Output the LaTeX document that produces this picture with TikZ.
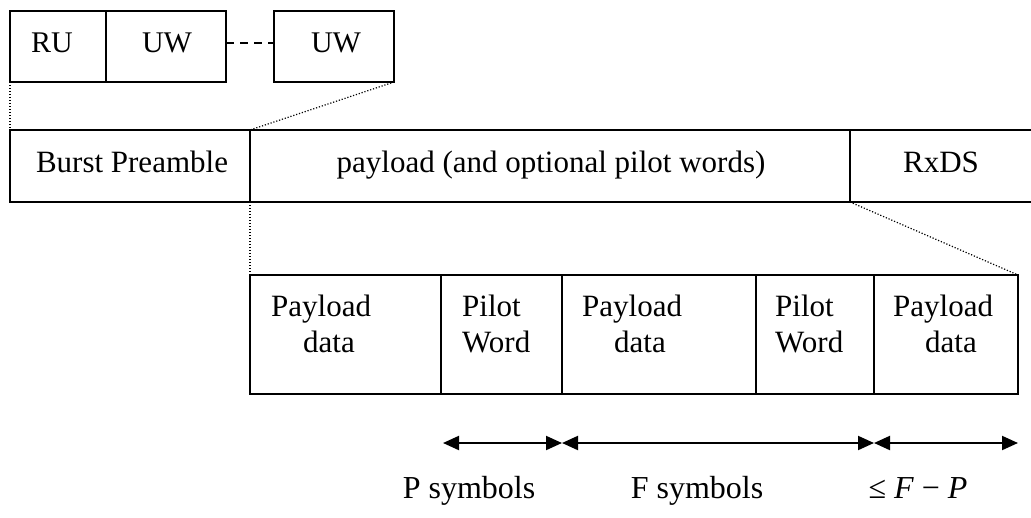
\documentclass[tikz,border=0pt]{standalone}
\usepackage{fontspec}
\setmainfont{Liberation Serif}
\usetikzlibrary{arrows.meta}
\begin{document}
\begin{tikzpicture}[x=1pt,y=-1pt,
  field/.style={draw, line width=2.5pt, inner sep=0pt, outer sep=0pt, anchor=north west},
  txt/.style={font=\fontsize{31}{36}\selectfont, inner sep=0pt},
  toptxt/.style={font=\fontsize{30}{36}\selectfont, inner sep=0pt},
  celltxt/.style={txt, align=left, anchor=north west},
  lbl/.style={font=\fontsize{32}{38}\selectfont, inner sep=0pt, anchor=base},
  zoomline/.style={line width=1.2pt, dash pattern=on 1.2pt off 1.8pt},
  span/.style={line width=2pt, {Triangle[length=16pt,width=14pt]}-{Triangle[length=16pt,width=14pt]}},
]
\useasboundingbox (0,0) rectangle (1031,517);

% preamble detail: RU, UW ... UW
\node[field, minimum width=96pt,  minimum height=71pt] (ru)  at (10,11)  {};
\node[field, minimum width=120pt, minimum height=71pt] (uwA) at (106,11) {};
\node[field, minimum width=120pt, minimum height=71pt] (uwB) at (274,11) {};
\node[toptxt, anchor=base west] (tru)  at (31,52)  {RU};
\node[toptxt, anchor=base]      (tuwA) at (167,52) {UW};
\node[toptxt, anchor=base]      (tuwB) at (336,52) {UW};
\draw[line width=2pt, dash pattern=on 8pt off 6pt]
  ([yshift=3.5pt]uwA.east) -- ([yshift=3.5pt]uwB.west);

% burst
\node[field, minimum width=240pt, minimum height=72pt] (burst) at (10,130)  {};
\node[field, minimum width=600pt, minimum height=72pt] (pay)   at (250,130) {};
\node[field, minimum width=200pt, minimum height=72pt] (rxds)  at (850,130) {};
\node[txt, anchor=base] (tburst) at (132,172) {Burst Preamble};
\node[txt, anchor=base] (tpay)   at (551,172) {payload (and optional pilot words)};
\node[txt, anchor=base] (trxds)  at (941,172) {RxDS};

% payload detail
\node[field, minimum width=191pt, minimum height=119pt] (c1) at (250,275) {};
\node[field, minimum width=121pt, minimum height=119pt] (c2) at (441,275) {};
\node[field, minimum width=194pt, minimum height=119pt] (c3) at (562,275) {};
\node[field, minimum width=118pt, minimum height=119pt] (c4) at (756,275) {};
\node[field, minimum width=144pt, minimum height=119pt] (c5) at (874,275) {};
\node[celltxt] (t1) at ([xshift=21pt,yshift=-20pt]c1.north west) {Payload\\\hspace*{32pt}data};
\node[celltxt] (t2) at ([xshift=21pt,yshift=-20pt]c2.north west) {Pilot\\Word};
\node[celltxt] (t3) at ([xshift=20pt,yshift=-20pt]c3.north west) {Payload\\\hspace*{32pt}data};
\node[celltxt] (t4) at ([xshift=19pt,yshift=-20pt]c4.north west) {Pilot\\Word};
\node[celltxt] (t5) at ([xshift=19pt,yshift=-20pt]c5.north west) {Payload\\\hspace*{32pt}data};

% zoom lines
\draw[zoomline] (ru.south west) -- (burst.north west);
\draw[zoomline] (uwB.south east) -- (pay.north west);
\draw[zoomline] (pay.south west) -- (c1.north west);
\draw[zoomline] (rxds.south west) -- (c5.north east);

% spans
\coordinate (s0) at ([xshift=2pt,yshift=-49pt]c2.south west);
\coordinate (s1) at ([yshift=-49pt]c3.south west);
\coordinate (s2) at ([yshift=-49pt]c5.south west);
\coordinate (s3) at ([yshift=-49pt]c5.south east);
\draw[span] (s0) -- (s1);
\draw[span] (s1) -- (s2);
\draw[span] (s2) -- (s3);
\node[lbl] (lp) at (469,498) {P symbols};
\node[lbl] (lf) at (697,498) {F symbols};
\node[lbl] (lr) at (918,498) {≤ \textit{F} − \textit{P}};
\end{tikzpicture}
\end{document}
